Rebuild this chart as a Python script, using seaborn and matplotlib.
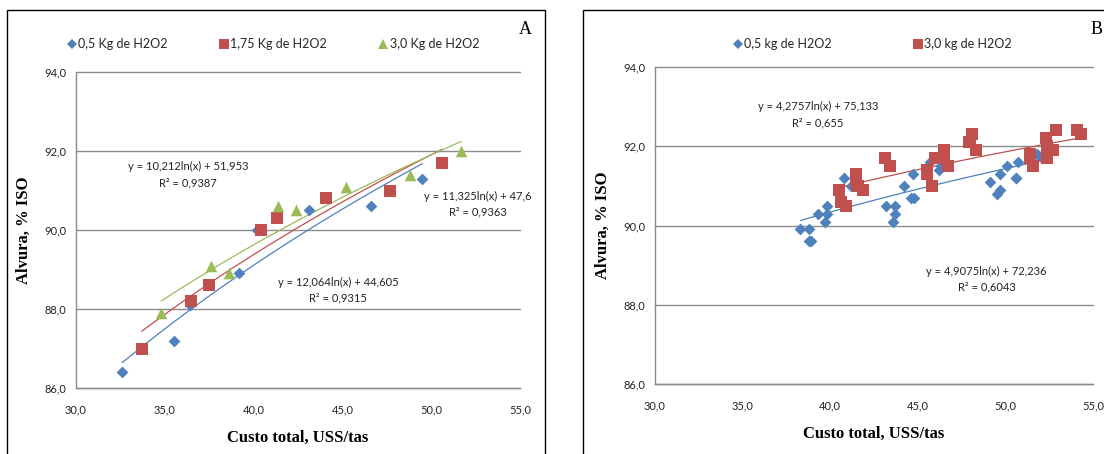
import numpy as np
import matplotlib
matplotlib.use("Agg")
import matplotlib.pyplot as plt
import seaborn as sns
from matplotlib.patches import Rectangle
from matplotlib.lines import Line2D

# ---------------- data ----------------
# Panel A
a_x_05 = [32.6, 35.5, 36.4, 39.2, 40.2, 43.1, 46.6, 49.5]
a_y_05 = [86.4, 87.2, 88.1, 88.9, 90.0, 90.5, 90.6, 91.3]
a_x_175 = [33.7, 36.5, 37.5, 40.4, 41.3, 44.1, 47.7, 50.6]
a_y_175 = [87.0, 88.2, 88.6, 90.0, 90.3, 90.8, 91.0, 91.7]
a_x_30 = [34.8, 37.6, 38.6, 41.4, 42.4, 45.2, 48.8, 51.7]
a_y_30 = [87.9, 89.1, 88.9, 90.6, 90.5, 91.1, 91.4, 92.0]
# trend line coefficients (a*ln(x)+b) as printed on chart
a_fit_05 = (12.064, 44.605)
a_fit_175 = (11.325, 47.6)
a_fit_30 = (10.212, 51.953)
a_labels = ["0,5 Kg de H2O2", "1,75 Kg de H2O2", "3,0 Kg de H2O2"]

# Panel B
b_x_05 = [38.3, 38.8, 38.8, 38.9, 39.3, 39.7, 39.8, 39.8, 40.8, 41.2, 43.2, 43.6,
          43.7, 43.7, 44.2, 44.6, 44.7, 44.8, 45.7, 46.2, 46.3, 49.1, 49.5, 49.7,
          49.7, 50.1, 50.6, 50.6, 50.7, 51.8, 52.1, 52.3]
b_y_05 = [89.9, 89.6, 89.9, 89.6, 90.3, 90.1, 90.3, 90.5, 91.2, 91.0, 90.5, 90.1,
          90.3, 90.5, 91.0, 90.7, 91.3, 90.7, 91.6, 91.4, 91.5, 91.1, 90.8, 90.9,
          91.3, 91.5, 91.2, 91.2, 91.6, 91.8, 91.7, 91.9]
b_x_30 = [40.5, 40.6, 40.9, 41.5, 41.5, 41.6, 41.9, 43.1, 43.4, 45.5, 45.5, 45.8,
          46.0, 46.5, 46.5, 46.7, 47.9, 48.1, 48.0, 48.3, 51.4, 51.4, 51.6, 52.3,
          52.4, 52.4, 52.4, 52.7, 52.9, 54.1, 54.3]
b_y_30 = [90.9, 90.6, 90.5, 91.3, 91.1, 91.0, 90.9, 91.7, 91.5, 91.4, 91.3, 91.0,
          91.7, 91.9, 91.7, 91.5, 92.1, 92.3, 92.1, 91.9, 91.8, 91.7, 91.5, 92.2,
          92.0, 91.9, 91.7, 91.9, 92.4, 92.4, 92.3]
b_fit_05 = (4.9075, 72.236)
b_fit_30 = (4.2757, 75.133)
b_labels = ["0,5 kg de H2O2", "3,0 kg de H2O2"]

x_ticks = [30, 35, 40, 45, 50, 55]
y_ticks = [86, 88, 90, 92, 94]

# ---------------- style ----------------
sns.set_theme(style="white")
plt.rcParams['font.family'] = ['Lato', 'DejaVu Sans']

BLUE = "#4F81BD"
RED = "#C0504D"
GREEN = "#9BBB59"
GRID = "#8C8C8C"

W, H = 1104, 454
fig = plt.figure(figsize=(W / 100, H / 100), dpi=100)


def fa(x0, y0, x1, y1):
    return [x0 / W, 1 - y1 / H, (x1 - x0) / W, (y1 - y0) / H]


def style_axes(ax):
    ax.set_xlim(30, 55)
    ax.set_ylim(86, 94)
    ax.set_xticks(x_ticks)
    ax.set_yticks(y_ticks)
    ax.set_xticklabels([f"{v:.1f}".replace(".", ",") for v in x_ticks])
    ax.set_yticklabels([f"{v:.1f}".replace(".", ",") for v in y_ticks])
    ax.yaxis.grid(True, color=GRID, lw=1)
    ax.xaxis.grid(False)
    for g in ax.get_ygridlines():
        g.set_clip_on(False)
    for s in ["top", "right"]:
        ax.spines[s].set_visible(False)
    for s in ["left", "bottom"]:
        ax.spines[s].set_color(GRID)
        ax.spines[s].set_linewidth(1)
    ax.tick_params(axis="both", direction="out", length=4, width=1, color=GRID,
                   labelsize=8, labelcolor="#222222", pad=3)
    ax.tick_params(axis="x", pad=8)
    ax.set_xlabel("Custo total, USS/tas", fontfamily="Liberation Serif",
                  fontweight="bold", fontsize=12, labelpad=10, color="black")
    ax.set_ylabel("Alvura, % ISO", fontfamily="Liberation Serif",
                  fontweight="bold", fontsize=12, labelpad=9, color="black")
    ax.set_facecolor("white")


def trend(ax, xs, coef, color):
    xx = np.linspace(min(xs), max(xs), 60)
    yy = coef[0] * np.log(xx) + coef[1]
    sns.lineplot(x=xx, y=yy, ax=ax, color=color, lw=0.9, zorder=2, legend=False)


# panel borders
fig.patches.append(Rectangle((7 / W, -0.05), (545 - 7) / W, 1.05 - 10 / H,
                             transform=fig.transFigure, fill=False, ec="black", lw=1))
fig.patches.append(Rectangle((583 / W, -0.05), 0.5, 1.05 - 10 / H,
                             transform=fig.transFigure, fill=False, ec="black", lw=1))

# ---------------- Panel A ----------------
axA = fig.add_axes(fa(76, 72, 520, 388))
style_axes(axA)
trend(axA, a_x_05, a_fit_05, BLUE)
trend(axA, a_x_175, a_fit_175, RED)
trend(axA, a_x_30, a_fit_30, GREEN)
sns.scatterplot(x=a_x_05, y=a_y_05, ax=axA, marker="D", s=36, color=BLUE,
                linewidth=0, zorder=3)
sns.scatterplot(x=a_x_175, y=a_y_175, ax=axA, marker="s", s=75, color=RED,
                linewidth=0, zorder=3)
sns.scatterplot(x=a_x_30, y=a_y_30, ax=axA, marker="^", s=70, color=GREEN,
                linewidth=0, zorder=3)

txtkw = dict(fontsize=8, color="#222222", ha="center", va="center")
axA.text(36.3, 91.6, "y = 10,212ln(x) + 51,953", **txtkw)
axA.text(36.3, 91.2, "R² = 0,9387", **txtkw)
axA.text(52.6, 90.84, "y = 11,325ln(x) + 47,6", clip_on=False, **txtkw)
axA.text(52.6, 90.46, "R² = 0,9363", clip_on=False, **txtkw)
axA.text(44.75, 88.68, "y = 12,064ln(x) + 44,605", **txtkw)
axA.text(44.75, 88.28, "R² = 0,9315", **txtkw)

hA = [Line2D([], [], ls="", marker="D", ms=5, color=BLUE, mew=0),
      Line2D([], [], ls="", marker="s", ms=7, color=RED, mew=0),
      Line2D([], [], ls="", marker="^", ms=7, color=GREEN, mew=0)]
fig.legend(hA, a_labels, loc="center left", bbox_to_anchor=(62 / W, 1 - 44 / H),
           ncol=3, frameon=False, fontsize=9, handlelength=0.6,
           handletextpad=0.2, columnspacing=4.2, borderpad=0)
fig.text(525 / W, 1 - 30 / H, "A", fontfamily="Liberation Serif", fontsize=13,
         ha="center", va="center", color="black")

# ---------------- Panel B ----------------
axB = fig.add_axes(fa(655, 67, 1093, 384))
style_axes(axB)
trend(axB, b_x_05, b_fit_05, BLUE)
trend(axB, b_x_30, b_fit_30, RED)
sns.scatterplot(x=b_x_05, y=b_y_05, ax=axB, marker="D", s=36, color=BLUE,
                linewidth=0, zorder=3)
sns.scatterplot(x=b_x_30, y=b_y_30, ax=axB, marker="s", s=75, color=RED,
                linewidth=0, zorder=4)
axB.text(39.3, 93.0, "y = 4,2757ln(x) + 75,133", **txtkw)
axB.text(39.3, 92.58, "R² = 0,655", **txtkw)
axB.text(48.93, 88.84, "y = 4,9075ln(x) + 72,236", **txtkw)
axB.text(48.93, 88.44, "R² = 0,6043", **txtkw)

hB = [Line2D([], [], ls="", marker="D", ms=5, color=BLUE, mew=0),
      Line2D([], [], ls="", marker="s", ms=7, color=RED, mew=0)]
fig.legend(hB, b_labels, loc="center left", bbox_to_anchor=(728 / W, 1 - 44 / H),
           ncol=2, frameon=False, fontsize=9, handlelength=0.6,
           handletextpad=0.2, columnspacing=6.6, borderpad=0)
fig.text(1103 / W, 1 - 30 / H, "B", fontfamily="Liberation Serif", fontsize=13,
         ha="right", va="center", color="black")

fig.savefig("out.png", dpi=100, facecolor="white")
